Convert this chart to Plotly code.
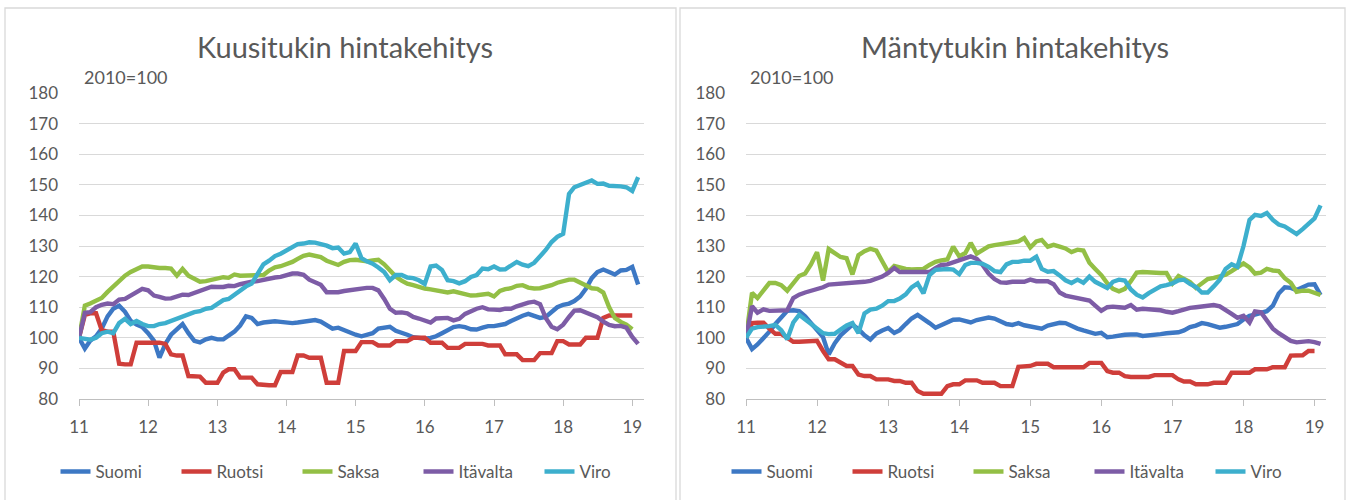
import pandas as pd
import plotly.graph_objects as go

# ---------------- data ----------------
months = pd.date_range("2011-01-01", periods=98, freq="MS")
series_names = ["Suomi", "Ruotsi", "Saksa", "Itävalta", "Viro"]
series_colors = ["#3D78C4", "#CF3E3A", "#93BF45", "#7D5CA6", "#3DAFCD"]
tick_years = ["11", "12", "13", "14", "15", "16", "17", "18", "19"]

# Kuusitukki (spruce logs), index 2010=100
kuusi_suomi = [100, 96.5, 99, 100.5, 103, 107, 109.5, 110.5, 108.5, 105.5, 104.3, 103.5,
               101.5, 99, 93.5, 98, 101, 103, 104.5, 101.5, 99, 98.5, 99.5, 100,
               99.5, 99.5, 100.5, 102, 104, 107, 106.5, 104.5, 105, 105.3, 105.4, 105.2,
               105, 104.8, 105, 105.3, 105.5, 105.8, 105.3, 104, 103, 103.3, 102.5, 101.5,
               101, 100.5, 101, 101.5, 103, 103.3, 103.6, 102.3, 101.8, 101, 100.2, 100,
               99.7, 100, 100.5, 101.5, 102.5, 103.5, 103.8, 103.5, 102.8, 102.7, 103.3, 103.8,
               103.8, 104, 104.5, 105.5, 106.5, 107.2, 107.8, 107, 106.5, 106.8, 108.5, 110,
               110.8, 111.2, 112, 113.5, 116, 119.5, 121.5, 122.3, 121.5, 120.7, 122, 122.2,
               123.2, 117.4]
kuusi_ruotsi = [100, 107.5, 108, 108, 102.5, 102, 102, 91.5, 91.3, 91.3, 98.4, 98.4,
                98.4, 98.4, 98.4, 98, 94.6, 94.2, 94.2, 87.5, 87.3, 87.3, 85.3, 85.3,
                85.3, 88.6, 89.7, 89.7, 87, 87, 87, 84.8, 84.5, 84.5, 84.5, 88.8,
                88.8, 88.8, 94.2, 94.2, 93.5, 93.5, 93.5, 85.3, 85.3, 85.3, 95.7, 95.7,
                95.7, 98.6, 98.6, 98.6, 97.5, 97.5, 97.5, 98.9, 98.9, 98.9, 100, 100,
                100, 98.4, 98.4, 98.4, 96.7, 96.7, 96.7, 98, 98, 98, 98, 97.5,
                97.5, 97.5, 94.6, 94.6, 94.6, 92.7, 92.7, 92.7, 95, 95, 95, 98.9,
                98.9, 97.8, 97.8, 97.8, 100, 100, 100, 106.5, 107.3, 107.3, 107.3, 107.3,
                107.3, None]
kuusi_saksa = [100, 110.5, 111.2, 112, 113, 115, 116.8, 118.5, 120.3, 121.5, 122.5, 123.3,
               123.3, 123, 122.8, 122.8, 122.6, 120.3, 122.5, 120.3, 119.2, 118.3, 118.5, 119,
               119.6, 119.8, 119.6, 120.7, 120.3, 120.3, 120.3, 120.3, 120.5, 122, 123, 123.4,
               124, 124.8, 125.8, 126.8, 127.2, 126.8, 126.4, 125.2, 124.5, 123.8, 124.8, 125.4,
               125.5, 125.2, 125, 125.3, 125.5, 124, 122, 120, 118.7, 117.7, 117.2, 116.6,
               116.1, 115.8, 115.5, 115.2, 114.8, 115.2, 114.8, 114.3, 113.8, 113.9, 114.2, 114.4,
               113.5, 115.3, 115.9, 116.2, 117, 117.2, 116.4, 116.1, 116.2, 116.6, 117.2, 118,
               118.6, 119, 119, 118, 117, 116.2, 116, 114.8, 110, 106.5, 105.2, 104.3,
               102.8, None]
kuusi_itavalta = [100, 108.2, 108.4, 110, 110.8, 111.2, 111, 112.5, 112.7, 113.8, 115.2, 116,
                  115.5, 113.8, 113.4, 112.8, 112.9, 113.5, 114.1, 114, 114.7, 115.2, 115.8, 116.7,
                  116.6, 116.6, 117, 116.9, 117.5, 118, 118.3, 118.5, 119, 119.5, 119.7, 119.9,
                  120.5, 121, 121, 120.6, 119, 118.3, 117.3, 114.9, 114.8, 114.9, 115.3, 115.6,
                  116, 116.3, 116.3, 116.3, 115.5, 112.7, 109.5, 108.2, 108.3, 108, 106.8, 106.3,
                  105.8, 105, 106.3, 106.5, 106.5, 105.7, 106.2, 107.8, 108.7, 109.5, 110, 109.3,
                  109.2, 109.1, 109.5, 109.5, 110.3, 111, 111.5, 111.8, 111, 106.5, 103.6, 102.8,
                  104.3, 106.8, 108.9, 109, 108.3, 107.6, 106.7, 105.3, 104.2, 103.8, 103.9, 103.3,
                  100.3, 98]
kuusi_viro = [100, 99.5, 99.4, 100, 101.5, 102, 101.5, 104.8, 106.2, 104.5, 105.5, 104.5,
              103.8, 103.8, 104.5, 104.8, 105.5, 106.4, 107.3, 107.9, 108.4, 108.7, 109.5, 109.8,
              111, 112.3, 112.7, 114.1, 115.8, 116.8, 117.7, 121, 124, 125.2, 126.7, 127.5,
              128.5, 129.8, 130.6, 130.8, 131.2, 131.1, 130.7, 130.1, 129.3, 129.5, 127.5, 128,
              130.8, 126, 125, 124.2, 123, 121.5, 118.8, 120.5, 120.5, 119.7, 119.5, 118.8,
              117.6, 123.3, 123.6, 122.2, 118.8, 118.5, 117.8, 118.5, 119.9, 120.5, 122.6, 122.4,
              123.3, 122.3, 122.4, 123.6, 124.8, 123.9, 123.4, 124.5, 126.6, 128.7, 131.3, 133,
              134, 147, 149.2, 149.9, 150.6, 151.4, 150.3, 150.4, 149.7, 149.7, 149.5, 149.2,
              148, 152.5]

# Mäntytukki (pine logs), index 2010=100
manty_suomi = [100, 96.3, 97.8, 99.8, 102, 104.5, 106.5, 108.8, 109, 108.7, 107, 104.8,
               102.3, 100.2, 94.6, 98.2, 100.8, 102.6, 104.3, 102.8, 100.8, 99.4, 101.4, 102.4,
               103.2, 101.6, 102.5, 104.5, 106.3, 107.5, 106.3, 104.8, 103.3, 104.2, 105.2, 105.9,
               106, 105.3, 105, 105.8, 106.3, 106.6, 106.3, 105.4, 104.5, 104.2, 104.8, 104.1,
               103.6, 103.3, 103, 104, 104.4, 104.9, 104.8, 103.8, 103, 102.4, 101.8, 101.3,
               101.6, 100.2, 100.4, 100.8, 101, 101.1, 101.1, 100.6, 100.7, 101, 101.2, 101.5,
               101.6, 101.8, 102.4, 103.5, 104, 104.8, 104.5, 103.8, 103.3, 103.6, 104.1, 104.5,
               106, 107.2, 107.6, 108.3, 108.7, 110.5, 114.5, 116.5, 116.3, 115.6, 116.4, 117.4,
               117.5, 114]
manty_ruotsi = [100, 104.8, 104.9, 104.9, 103, 101.3, 101.3, 100, 98.7, 98.7, 98.7, 99,
                99, 95.7, 93, 93, 92, 90.8, 90.8, 88, 87.5, 87.5, 86.4, 86.4,
                86.4, 85.9, 85.9, 85.3, 85.3, 82.6, 81.7, 81.7, 81.7, 81.7, 84.2, 84.8,
                84.8, 86.1, 86.1, 86.1, 85.3, 85.3, 85.3, 84.2, 84.2, 84.2, 90.5, 90.8,
                90.8, 91.5, 91.5, 91.5, 90.4, 90.4, 90.4, 90.4, 90.4, 90.4, 91.8, 91.8,
                91.8, 89.1, 88.6, 88.6, 87.5, 87.2, 87.2, 87.2, 87.2, 87.8, 87.8, 87.8,
                87.8, 86.4, 85.7, 85.7, 84.8, 84.8, 84.8, 85.3, 85.3, 85.3, 88.6, 88.6,
                88.6, 88.6, 89.7, 89.7, 89.7, 90.4, 90.4, 90.4, 94.2, 94.3, 94.3, 95.7,
                95.7, None]
manty_saksa = [100, 114.7, 113, 115.5, 117.9, 117.9, 117.2, 115.4, 117.6, 120.2, 121, 124,
               128, 118.7, 129, 127.7, 126.4, 126, 120.7, 127, 128.3, 129.1, 128.5, 125,
               121.5, 123.5, 123, 122.5, 122.3, 122.5, 122.5, 123.8, 124.8, 125.3, 125.6, 129.8,
               126.6, 127.7, 131, 127.5, 128.5, 129.9, 130.3, 130.6, 130.8, 131, 131.5, 132.6,
               129.5, 131.5, 132, 129.8, 130.4, 129.8, 129.2, 128, 128.8, 128.5, 124.5, 122.5,
               120.5, 117.8, 116, 115.2, 116, 118.5, 121.3, 121.5, 121.3, 121.2, 121.2, 121.2,
               117.8, 120.2, 119.3, 118.2, 116.3, 118, 119.2, 119.6, 120, 120.6, 121.8, 123,
               124.3, 123, 121, 121.3, 122.5, 122, 121.8, 119.5, 118, 115, 115.4, 115.4,
               114.7, 114]
manty_itavalta = [100, 110.3, 108.2, 109.3, 108.8, 108.8, 108.8, 109, 113, 114.1, 114.8, 115.3,
                  115.7, 116.5, 117.4, 117.5, 117.8, 117.7, 117.8, 118, 118.3, 118.6, 119.2, 120,
                  121.2, 122.8, 121.5, 121.5, 121.5, 121.5, 121.5, 121.5, 122.8, 123.8, 124, 124.6,
                  125.5, 126.2, 126.6, 125.8, 123.8, 121, 119.2, 118.1, 118, 118.3, 118.3, 118.3,
                  119, 118.5, 118.5, 118.5, 117.5, 114.8, 113.8, 113.4, 113.2, 112.8, 112.2, 110.5,
                  108.8, 110, 110.2, 110, 109.8, 110.7, 109.2, 109.5, 109.4, 109.2, 109, 108.5,
                  108.2, 108.7, 109.3, 109.8, 110, 110.2, 110.5, 110.7, 110.3, 108.9, 107.8, 106.5,
                  107.2, 105, 108.6, 108.3, 105.8, 103, 101.5, 100.2, 99, 98.5, 98.8, 98.9,
                  98.6, 98]
manty_viro = [100, 103, 103.5, 103.5, 103.8, 104.2, 102.5, 99.5, 105, 107.5, 106, 104.5,
              102.8, 101.5, 101.2, 101.3, 102.7, 104, 104.8, 101.5, 108, 109.2, 109.5, 110.5,
              112, 112, 112.8, 114.2, 116.5, 117.8, 114.5, 120.5, 122.2, 122.5, 122.5, 122.3,
              120.8, 123.8, 124.5, 124.5, 124.2, 123.2, 121.8, 121.5, 124, 124.8, 124.8, 125.2,
              125.2, 126.5, 122.5, 121.6, 121.8, 120.4, 118.8, 117.9, 119, 118, 120, 118.3,
              117.2, 116.3, 118.3, 119, 118.7, 115.8, 114.1, 113.2, 114.6, 115.5, 116.8, 117.2,
              117.8, 118.8, 119, 117.6, 116.6, 114.8, 114.8, 116.8, 119, 122.5, 124, 123.2,
              130, 138.5, 140.2, 139.8, 140.8, 138.5, 137, 136.4, 135, 133.9, 135.5, 137.2,
              139, 143.3]

panels = [
    {"title": "Kuusitukin hintakehitys", "data": [kuusi_suomi, kuusi_ruotsi, kuusi_saksa, kuusi_itavalta, kuusi_viro]},
    {"title": "Mäntytukin hintakehitys", "data": [manty_suomi, manty_ruotsi, manty_saksa, manty_itavalta, manty_viro]},
]

# ---------------- figure ----------------
W, H = 1348, 500
FONT = "Lato"
TXT = "#595959"
GRID = "#d9d9d9"

fig = go.Figure()

x_domains = [[79 / W, 644 / W], [746 / W, 1326 / W]]
x_ranges = [["2011-01-01", "2019-03-04"], ["2011-01-01", "2019-03-01"]]
y_domain = [1 - 399 / H, 1 - 93 / H]
title_x = [345 / W, 1015 / W]
note_x = [82 / W, 748 / W]
legend_x = [358 / W, 1029 / W]
boxes = [[5, 676], [680, 1345]]

for p, panel in enumerate(panels):
    xa = "x" if p == 0 else "x2"
    ya = "y" if p == 0 else "y2"
    leg = "legend" if p == 0 else "legend2"
    for name, color, vals in zip(series_names, series_colors, panel["data"]):
        fig.add_trace(go.Scatter(
            x=months, y=vals, name=name, mode="lines",
            line=dict(color=color, width=4.4),
            xaxis=xa, yaxis=ya, legend=leg, connectgaps=False,
            hoverinfo="skip",
        ))
    suffix = "" if p == 0 else "2"
    fig.update_layout(**{
        f"xaxis{suffix}": dict(
            domain=x_domains[p], range=x_ranges[p], type="date",
            tickvals=[f"20{y}-01-01" for y in tick_years], ticktext=tick_years,
            showgrid=False, showline=True, linecolor="#bfbfbf", linewidth=1.3,
            ticks="outside", ticklen=6, tickcolor="#bfbfbf", tickwidth=1.3,
            tickfont=dict(family=FONT, size=17, color=TXT),
            ticklabelstandoff=6, anchor=ya, zeroline=False,
        ),
        f"yaxis{suffix}": dict(
            domain=y_domain, range=[80, 180], dtick=10, tick0=80,
            showgrid=True, gridcolor=GRID, gridwidth=1.3,
            showline=False, zeroline=False, ticks="",
            tickfont=dict(family=FONT, size=17, color=TXT),
            ticklabelstandoff=20, anchor=xa,
        ),
    })
    fig.add_annotation(text=panel["title"], xref="paper", yref="paper",
                       x=title_x[p], y=1 - 47 / H, xanchor="center", yanchor="middle",
                       showarrow=False, font=dict(family=FONT, size=29, color=TXT))
    fig.add_annotation(text="2010=100", xref="paper", yref="paper",
                       x=note_x[p], y=1 - 77 / H, xanchor="left", yanchor="middle",
                       showarrow=False, font=dict(family=FONT, size=18, color=TXT))
    fig.add_shape(type="rect", xref="paper", yref="paper",
                  x0=boxes[p][0] / W, x1=boxes[p][1] / W, y0=-0.05, y1=1 - 8 / H,
                  line=dict(color="#d9d9d9", width=1.3), fillcolor="rgba(0,0,0,0)", layer="below")

legend_common = dict(orientation="h", xanchor="center", yanchor="middle",
                     y=1 - 472 / H, font=dict(family=FONT, size=17, color=TXT),
                     entrywidth=76, entrywidthmode="pixels", bgcolor="rgba(0,0,0,0)",
                     traceorder="normal", itemclick=False, itemdoubleclick=False)
fig.update_layout(
    width=W, height=H,
    margin=dict(l=0, r=0, t=0, b=0, autoexpand=False),
    paper_bgcolor="white", plot_bgcolor="white",
    showlegend=True,
    legend=dict(x=legend_x[0], **legend_common),
    legend2=dict(x=legend_x[1], **legend_common),
    font=dict(family=FONT, color=TXT),
)

fig.write_html("out.html", config={"displayModeBar": False},
               post_script="document.body.style.margin='0px';")
